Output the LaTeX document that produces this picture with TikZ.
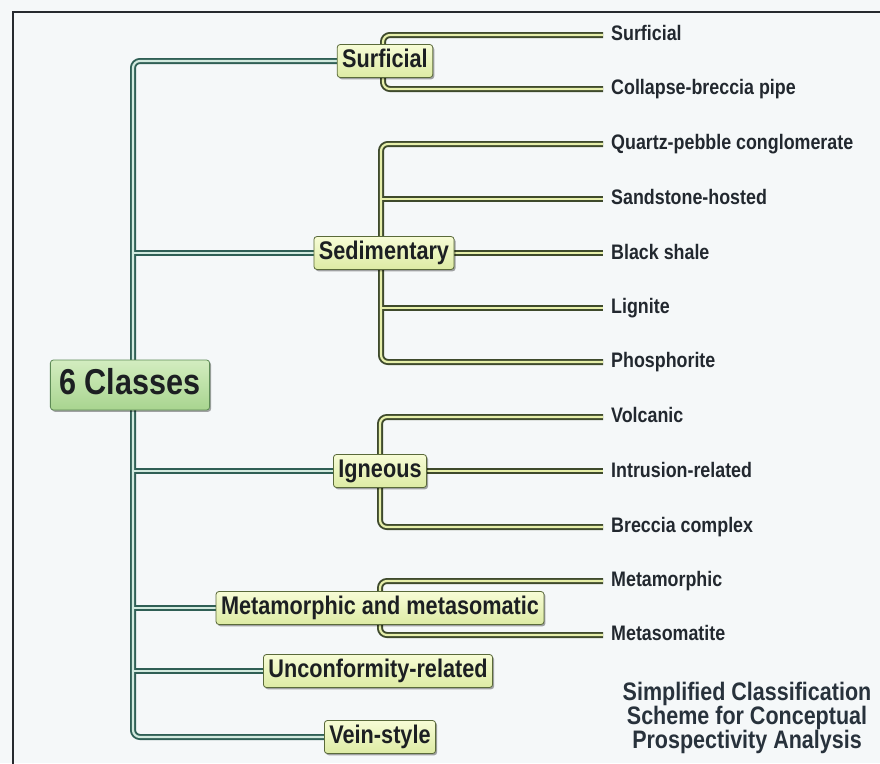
\documentclass[tikz,border=0pt]{standalone}
\usepackage{fontspec}
\setmainfont{Liberation Sans}[FakeStretch=0.85]
\usetikzlibrary{shadows}
\definecolor{bgc}{HTML}{F5F8F9}
\definecolor{frame}{HTML}{262A2E}
\definecolor{trunkout}{HTML}{2F5F55}
\definecolor{trunkin}{HTML}{D2EADF}
\definecolor{subout}{HTML}{3E4A2C}
\definecolor{subin}{HTML}{E6EFAA}
\definecolor{boxtop}{HTML}{F7FCD6}
\definecolor{boxbot}{HTML}{DDEBA4}
\definecolor{boxline}{HTML}{5A6A3A}
\definecolor{roottop}{HTML}{D3EDC0}
\definecolor{rootbot}{HTML}{A8D48F}
\definecolor{rootline}{HTML}{5D8A55}
\definecolor{textc}{HTML}{1C1F22}
\definecolor{leafc}{HTML}{22282F}
\definecolor{titlec}{HTML}{28323C}
\pgfdeclarelayer{back}
\pgfdeclarelayer{lines}
\pgfsetlayers{back,lines,main}
\newcommand\trunkpaths[1]{%
  \draw[#1,rounded corners=7pt] (surf.west) -- (surf.west -| tk) -- (vein.west -| tk) -- (vein.west);
  \draw[#1] (sed.west -| tk) -- (sed.west);
  \draw[#1] (ign.west -| tk) -- (ign.west);
  \draw[#1] (meta.west -| tk) -- (meta.west);
  \draw[#1] (unc.west -| tk) -- (unc.west);
}
\newcommand\subpaths[1]{%
  \draw[#1,rounded corners=7pt,shorten >=8pt,shorten <=8pt] (lsurf.west) -- (lsurf.west -| sxa) -- (lcol.west -| sxa) -- (lcol.west);
  \draw[#1,rounded corners=7pt,shorten >=8pt,shorten <=8pt] (lqua.west) -- (lqua.west -| sxb) -- (lpho.west -| sxb) -- (lpho.west);
  \draw[#1,shorten >=8pt] (lsan.west -| sxb) -- (lsan.west);
  \draw[#1,shorten >=8pt] (llig.west -| sxb) -- (llig.west);
  \draw[#1,shorten >=8pt] (sed.east) -- (sed.east -| lbla.west);
  \draw[#1,rounded corners=7pt,shorten >=8pt,shorten <=8pt] (lvol.west) -- (lvol.west -| sxc) -- (lbre.west -| sxc) -- (lbre.west);
  \draw[#1,shorten >=8pt] (ign.east) -- (ign.east -| lint.west);
  \draw[#1,rounded corners=7pt,shorten >=8pt,shorten <=8pt] (lmet.west) -- (lmet.west -| sxd) -- (lmso.west -| sxd) -- (lmso.west);
}
\begin{document}
\begin{tikzpicture}[x=1pt,y=-1pt,
  box/.style={draw=boxline, line width=0.8pt, rounded corners=3pt,
    top color=boxtop, bottom color=boxbot,
    drop shadow={shadow xshift=1.5pt, shadow yshift=-1.8pt, fill=black, opacity=0.35},
    font=\fontsize{25.5}{27}\selectfont\bfseries, text=textc,
    inner xsep=5pt, inner ysep=0pt, text height=18pt, text depth=5pt, minimum height=33pt},
  rootbox/.style={box, draw=rootline, top color=roottop, bottom color=rootbot,
    font=\fontsize{36}{40}\selectfont\bfseries, inner xsep=9pt,
    text height=26pt, text depth=7pt, minimum height=50pt},
  leaf/.style={anchor=west, inner sep=0pt, font=\fontsize{21}{24}\selectfont\bfseries,
    text=leafc, text height=15pt, text depth=4pt},
  trunkout/.style={draw=trunkout, line width=6pt},
  trunkin/.style={draw=trunkin, line width=2.2pt},
  subout/.style={draw=subout, line width=6pt},
  subin/.style={draw=subin, line width=2.2pt},
]
\useasboundingbox (0,0) rectangle (880,763);
\begin{pgfonlayer}{back}
  \fill[bgc] (0,0) rectangle (880,763);
  \draw[frame, line width=2.2pt] (13,770) -- (13,12) -- (890,12);
\end{pgfonlayer}

% coordinates of the vertical lines
\coordinate (tk) at (133,0);
\coordinate (sxa) at (383,0);
\coordinate (sxb) at (381,0);
\coordinate (sxc) at (380,0);
\coordinate (sxd) at (380,0);

% main boxes
\node[rootbox] (root) at (130,385) {6 Classes};
\node[box] (surf) at (385,61) {Surficial};
\node[box] (sed)  at (384,253) {Sedimentary};
\node[box] (ign)  at (380,471) {Igneous};
\node[box] (meta) at (380,608) {Metamorphic and metasomatic};
\node[box] (unc)  at (378,671) {Unconformity-related};
\node[box] (vein) at (380,737) {Vein-style};

% leaves
\node[leaf] (lsurf) at (611,35)  {Surficial};
\node[leaf] (lcol)  at (611,89)  {Collapse-breccia pipe};
\node[leaf] (lqua)  at (611,144) {Quartz-pebble conglomerate};
\node[leaf] (lsan)  at (611,199) {Sandstone-hosted};
\node[leaf] (lbla)  at (611,254) {Black shale};
\node[leaf] (llig)  at (611,308) {Lignite};
\node[leaf] (lpho)  at (611,362) {Phosphorite};
\node[leaf] (lvol)  at (611,417) {Volcanic};
\node[leaf] (lint)  at (611,472) {Intrusion-related};
\node[leaf] (lbre)  at (611,527) {Breccia complex};
\node[leaf] (lmet)  at (611,581) {Metamorphic};
\node[leaf] (lmso)  at (611,635) {Metasomatite};

% title
\node[align=center, text=titlec, font=\fontsize{25.3}{24}\selectfont\bfseries] (title) at (747,718)
  {Simplified Classification\\Scheme for Conceptual\\Prospectivity Analysis};

\begin{pgfonlayer}{lines}
  \trunkpaths{trunkout}
  \trunkpaths{trunkin}
  \subpaths{subout}
  \subpaths{subin}
\end{pgfonlayer}
\end{tikzpicture}
\end{document}
